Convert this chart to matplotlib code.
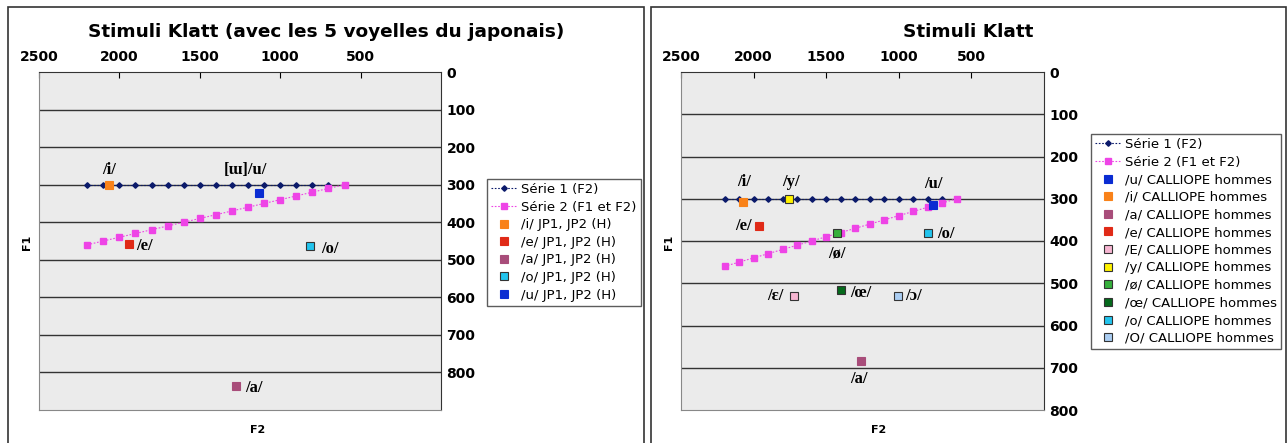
"""Klatt stimuli in the F2/F1 plane, with Japanese and French (CALLIOPE) vowels."""

import matplotlib
matplotlib.use("Agg")
import matplotlib.pyplot as plt
from matplotlib.patches import Rectangle

# ==============================================================================
# Data (Hz)
# ==============================================================================

# Klatt continuum
serie1_f2 = [2200, 2100, 2000, 1900, 1800, 1700, 1600, 1500,
             1400, 1300, 1200, 1100, 1000, 900, 800, 700]
serie1_f1 = [300] * 16
serie2_f2 = [2200, 2100, 2000, 1900, 1800, 1700, 1600, 1500, 1400,
             1300, 1200, 1100, 1000, 900, 800, 700, 600]
serie2_f1 = [460, 450, 440, 430, 420, 410, 400, 390, 380,
             370, 360, 350, 340, 330, 320, 310, 300]

# Japanese vowels, JP1 + JP2 (H)
jp_names = ["/i/ JP1, JP2 (H)", "/e/ JP1, JP2 (H)", "/a/ JP1, JP2 (H)",
            "/o/ JP1, JP2 (H)", "/u/ JP1, JP2 (H)"]
jp_f2 = [2065, 1940, 1275, 815, 1130]
jp_f1 = [300, 457, 837, 464, 323]
jp_labels = ["/i/", "/e/", "/a/", "/o/", "[ɯ]/u/"]

# French vowels, CALLIOPE hommes
fr_names = ["/u/ CALLIOPE hommes", "/i/ CALLIOPE hommes", "/a/ CALLIOPE hommes",
            "/e/ CALLIOPE hommes", "/E/ CALLIOPE hommes", "/y/ CALLIOPE hommes",
            "/ø/ CALLIOPE hommes", "/œ/ CALLIOPE hommes", "/o/ CALLIOPE hommes",
            "/O/ CALLIOPE hommes"]
fr_f2 = [765, 2070, 1260, 1963, 1720, 1757, 1424, 1395, 802, 1003]
fr_f1 = [315, 307, 683, 364, 529, 300, 380, 517, 382, 529]
fr_labels = ["/u/", "/i/", "/a/", "/e/", "/ɛ/", "/y/", "/ø/", "/œ/", "/o/", "/ɔ/"]

# ==============================================================================
# Styles
# ==============================================================================

NAVY = "#0b1a6b"
MAGENTA = "#ee44e6"
EDGE = "#333333"

jp_colors = ["#f98219", "#e02a17", "#a84d7a", "#22c4ee", "#0a2cd2"]
jp_edges = [None, None, None, EDGE, None]
fr_colors = ["#0a2cd2", "#f98219", "#a84d7a", "#e02a17", "#f7b6d2",
             "#fff200", "#36b03c", "#056a1c", "#22c4ee", "#aacdf2"]
fr_edges = [None, None, None, None, EDGE, EDGE, EDGE, EDGE, EDGE, EDGE]

# label offsets in pixels (dx, dy, ha)
jp_offsets = [(0, 15, "center"), (7, -2, "left"), (9, -2, "left"),
              (11, -3, "left"), (-14, 23, "center")]
fr_offsets = [(0, 21, "center"), (1, 20, "center"), (-2, -18, "center"),
              (-7, 0, "right"), (-11, 0, "right"), (2, 17, "center"),
              (0, -21, "center"), (9, -3, "left"), (10, -1, "left"),
              (7, 0, "left")]

W, H = 1288, 443
BG = "#ebebeb"
SERIF = ["Liberation Serif", "DejaVu Serif"]


def px_rect(left, top, right, bottom):
    return [left / W, (H - bottom) / H, (right - left) / W, (bottom - top) / H]


def draw_panel(fig, rect, ymax, names, f2, f1, colors, edges, labels, offsets):
    ax = fig.add_axes(rect)
    ax.set_facecolor(BG)
    ax.set_xlim(2500, 0)
    ax.set_ylim(ymax, 0)
    ax.xaxis.tick_top()
    ax.yaxis.tick_right()
    ax.set_xticks([2500, 2000, 1500, 1000, 500])
    ax.set_yticks(range(0, 900, 100))
    ax.tick_params(axis="x", direction="in", length=4, pad=6, labelsize=10)
    ax.tick_params(axis="y", length=0, pad=4, labelsize=10)
    for lab in ax.get_xticklabels() + ax.get_yticklabels():
        lab.set_fontweight("bold")
    for y in range(100, ymax, 100):
        ax.axhline(y, color="#333333", lw=1, zorder=1)
    for s in ax.spines.values():
        s.set_color("#888888")
    ax.spines["right"].set_color("#333333")
    ax.spines["top"].set_color("#333333")

    ax.plot(serie1_f2, serie1_f1, ls=(0, (1.5, 1.5)), lw=0.8, color=NAVY,
            marker="D", ms=2.8, zorder=3, label="Série 1 (F2)")
    ax.plot(serie2_f2, serie2_f1, ls=(0, (1.5, 1.5)), lw=0.8, color=MAGENTA,
            marker="s", ms=4.2, zorder=3, label="Série 2 (F1 et F2)")
    for i, name in enumerate(names):
        ec = edges[i] if edges[i] else colors[i]
        ax.plot(f2[i], f1[i], ls="none", marker="s", ms=6.2, color=colors[i],
                mec=ec, mew=0.8, zorder=4, label=name)
    for i, text in enumerate(labels):
        dx, dy, ha = offsets[i]
        ax.annotate(text, (f2[i], f1[i]), xytext=(dx * 0.72, dy * 0.72),
                    textcoords="offset points", ha=ha, va="center",
                    fontsize=12, fontweight="bold", family=SERIF, zorder=5)
    ax.set_xlabel("F2", fontsize=8, fontweight="bold")
    ax.xaxis.set_label_coords(0.545, -0.06)
    ax.xaxis.label.set_va("center")
    return ax


fig = plt.figure(figsize=(W / 100, H / 100), dpi=100)

# panel frames
fig.patches.append(Rectangle((8 / W, -0.1), 636 / W, (H - 7) / H + 0.1,
                             transform=fig.transFigure, fill=False,
                             ec="#333333", lw=1.2))
fig.patches.append(Rectangle((651 / W, -0.1), 635 / W, (H - 7) / H + 0.1,
                             transform=fig.transFigure, fill=False,
                             ec="#333333", lw=1.2))

ax1 = draw_panel(fig, px_rect(39, 72, 441, 410), 900, jp_names, jp_f2, jp_f1,
                 jp_colors, jp_edges, jp_labels, jp_offsets)
ax2 = draw_panel(fig, px_rect(681, 72, 1044, 410), 800, fr_names, fr_f2, fr_f1,
                 fr_colors, fr_edges, fr_labels, fr_offsets)

fig.text(326 / W, 1 - 32 / H, "Stimuli Klatt (avec les 5 voyelles du japonais)",
         ha="center", va="center", fontsize=13.3, fontweight="bold")
fig.text(968 / W, 1 - 32 / H, "Stimuli Klatt", ha="center", va="center",
         fontsize=13.3, fontweight="bold")
fig.text(27 / W, 1 - 242 / H, "F1", rotation=90, ha="center", va="center",
         fontsize=8, fontweight="bold")
fig.text(669 / W, 1 - 242 / H, "F1", rotation=90, ha="center", va="center",
         fontsize=8, fontweight="bold")

for ax, anchor in [(ax1, (487 / W, 1 - 179 / H)), (ax2, (1091 / W, 1 - 134 / H))]:
    leg = ax.legend(loc="upper left", bbox_to_anchor=anchor,
                    bbox_transform=fig.transFigure, fontsize=9.5,
                    frameon=True, fancybox=False, borderaxespad=0,
                    borderpad=0.3, labelspacing=0.35, handlelength=2.0,
                    handletextpad=0.3)
    leg.get_frame().set_edgecolor("#333333")
    leg.get_frame().set_linewidth(1.0)

fig.savefig("out.png", dpi=100)
